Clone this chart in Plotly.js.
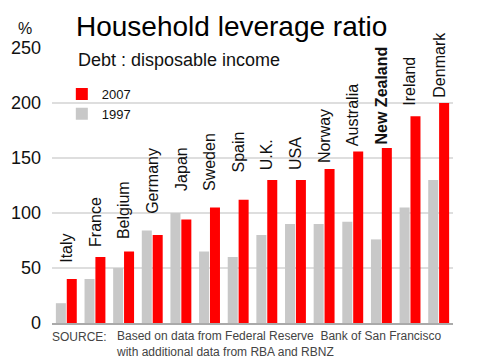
<!DOCTYPE html>
<html>
<head>
<meta charset="utf-8">
<script src="https://cdn.plot.ly/plotly-3.0.1.min.js"></script>
<style>html,body{margin:0;padding:0;background:#fff;}#chart{width:490px;height:360px;}</style>
</head>
<body>
<div id="chart"></div>
<script>
var countries = ["Italy","France","Belgium","Germany","Japan","Sweden","Spain","U.K.","USA","Norway","Australia","New Zealand","Ireland","Denmark"];
var values1997 = [18, 40, 50, 84, 100, 65, 60, 80, 90, 90, 92, 76, 105, 130];
var values2007 = [40, 60, 65, 80, 94, 105, 112, 130, 130, 140, 156, 159, 188, 200];
var yTicks = [0, 50, 100, 150, 200, 250];
// pixel gap between the taller bar and its country label (layout only)
var labelGaps = [17, 11, 13, 18, 23, 17, 28, 11, 11, 7, 6, 5, 11, 6];

var FONT = "Arial, 'Liberation Sans', sans-serif";

var traces = [
  {type: "bar", name: "1997", x: countries, y: values1997,
   marker: {color: "#c8c8c8"}, hoverinfo: "none"},
  {type: "bar", name: "2007", x: countries, y: values2007,
   marker: {color: "#ff0000"}, hoverinfo: "none"}
];

var annotations = countries.map(function (c, i) {
  var txt = c === "New Zealand" ? "<b>" + c + "</b>" : c;
  return {
    x: c, xref: "x", y: Math.max(values1997[i], values2007[i]), yref: "y",
    text: txt, textangle: -90, showarrow: false,
    xanchor: "center", yanchor: "bottom", yshift: labelGaps[i] - 3,
    font: {family: FONT, size: 16, color: "#111"}
  };
});

annotations.push({
  xref: "paper", yref: "paper", x: -0.0673, y: 1.071, xanchor: "center", yanchor: "middle",
  text: "%", showarrow: false, font: {family: FONT, size: 16, color: "#111"}
});
annotations.push({
  xref: "paper", yref: "paper", x: 0.060, y: 0.955, xanchor: "left", yanchor: "middle",
  text: "Debt : disposable income", showarrow: false, font: {family: FONT, size: 18, color: "#111"}
});
annotations.push({
  xref: "paper", yref: "paper", x: -0.005, y: -0.050, xanchor: "left", yanchor: "middle",
  text: "SOURCE:", showarrow: false, font: {family: FONT, size: 12, color: "#444"}
});
annotations.push({
  xref: "paper", yref: "paper", x: 0.155, y: -0.077, xanchor: "left", yanchor: "middle", align: "left",
  text: "Based on data from Federal Reserve  Bank of San Francisco<br>with additional data from RBA and RBNZ",
  showarrow: false, font: {family: FONT, size: 12, color: "#444"}
});

var layout = {
  width: 490, height: 360,
  margin: {l: 52, r: 37, t: 48, b: 37, pad: 0},
  paper_bgcolor: "#fff", plot_bgcolor: "#fff",
  font: {family: FONT, color: "#111"},
  title: {
    text: "Household leverage ratio",
    font: {family: FONT, size: 28, color: "#000"},
    xref: "container", yref: "container",
    x: 76 / 490, xanchor: "left", y: 0.926, yanchor: "middle"
  },
  barmode: "group", bargap: 0.24, bargroupgap: 0.08,
  showlegend: true,
  legend: {
    x: 0.0245, y: 0.8875, xanchor: "left", yanchor: "top",
    traceorder: "reversed", font: {family: FONT, size: 13, color: "#111"},
    bgcolor: "rgba(0,0,0,0)"
  },
  xaxis: {
    type: "category", showticklabels: false, ticks: "",
    showgrid: false, zeroline: false,
    showline: true, linecolor: "#aaaaaa", linewidth: 1.5
  },
  yaxis: {
    range: [0, 250], tickvals: yTicks, ticktext: yTicks.map(String),
    showgrid: true, gridcolor: "#dedede", gridwidth: 1.5,
    zeroline: false, showline: false, ticks: "",
    ticklabelstandoff: 10,
    tickfont: {family: FONT, size: 18, color: "#111"}
  },
  annotations: annotations
};

Plotly.newPlot("chart", traces, layout, {displayModeBar: false, staticPlot: true});
</script>
</body>
</html>
